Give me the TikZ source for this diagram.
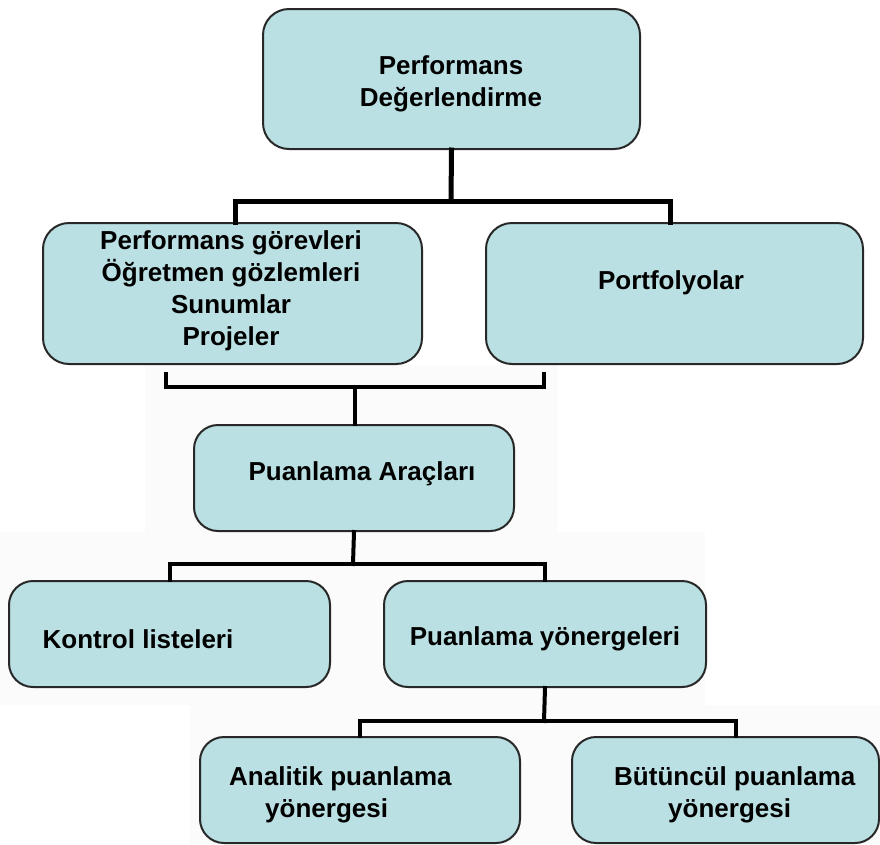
\documentclass[tikz,border=0pt]{standalone}
\usepackage{fontspec}
\setmainfont{Liberation Sans}
\definecolor{boxblue}{RGB}{186,224,227}
\definecolor{boxline}{RGB}{40,40,40}
\definecolor{patch}{RGB}{251,251,251}
\begin{document}
\begin{tikzpicture}[x=1pt,y=-1pt,
  box/.style={draw=boxline, line width=2pt, fill=boxblue, rounded corners=26pt,
              inner sep=0pt, anchor=north west},
  lbl/.style={font=\fontsize{26}{32}\selectfont\bfseries, inner sep=0pt},
  link/.style={draw=black, line width=4pt, line cap=rect, line join=miter},
  thick link/.style={link, line width=5pt}]
\useasboundingbox (0,0) rectangle (880,844);

% faint background panels behind the lower levels
\fill[patch] (145,365) rectangle (558,532);
\fill[patch] (0,532) rectangle (705,705);
\fill[patch] (190,705) rectangle (880,844);

% boxes
\node[box, minimum width=377pt, minimum height=140pt] (top)  at (262,8) {};
\node[box, minimum width=379pt, minimum height=141pt] (pg)   at (42,222) {};
\node[box, minimum width=377pt, minimum height=141pt] (port) at (485,222) {};
\node[box, minimum width=320pt, minimum height=106pt, rounded corners=24pt] (ara)  at (193,424) {};
\node[box, minimum width=321pt, minimum height=106pt, rounded corners=24pt] (kon)  at (8,580) {};
\node[box, minimum width=322pt, minimum height=106pt, rounded corners=24pt] (pyon) at (383,580) {};
\node[box, minimum width=320pt, minimum height=106pt, rounded corners=24pt] (ana)  at (199,736) {};
\node[box, minimum width=307pt, minimum height=106pt, rounded corners=24pt] (but)  at (571,736) {};

% labels
\node[lbl, align=center] (ttop)  at (451,84)  {Performans\\Değerlendirme};
\node[lbl, align=center] (tpg)   at (231,291) {Performans görevleri\\Öğretmen gözlemleri\\Sunumlar\\Projeler};
\node[lbl]               (tport) at (671,283) {Portfolyolar};
\node[lbl]               (tara)  at (362,474) {Puanlama Araçları};
\node[lbl]               (tkon)  at (138,639) {Kontrol listeleri};
\node[lbl]               (tpyon) at (545,639) {Puanlama yönergeleri};
\node[lbl, align=left, anchor=west] (tana) at (229,795) {Analitik puanlama\\\hspace*{36pt}yönergesi};
\node[lbl, align=left, anchor=west] (tbut) at (614,795) {Bütüncül puanlama\\\hspace*{54pt}yönergesi};

% junction points
\coordinate (j1) at (451,201);
\coordinate (bl) at (166,374);
\coordinate (br) at (544,374);
\coordinate (bm) at (355,387);
\coordinate (j3) at (353,564);
\coordinate (j4) at (544,721);

% connectors
\draw[thick link] (top.south) -- (j1);
\draw[thick link] ([xshift=3pt]pg.north) |- (j1) -| ([xshift=-4pt]port.north);
\draw[link] (bl) |- (bm) -| (br);
\draw[link] (bm) -- (bm |- ara.north);
\draw[link] (ara.south) -- (j3);
\draw[link] (kon.north) |- (j3) -| (pyon.north);
\draw[link] (pyon.south) -- (j4);
\draw[link] (ana.north) |- (j4) -| ([xshift=10pt]but.north);
\end{tikzpicture}
\end{document}
